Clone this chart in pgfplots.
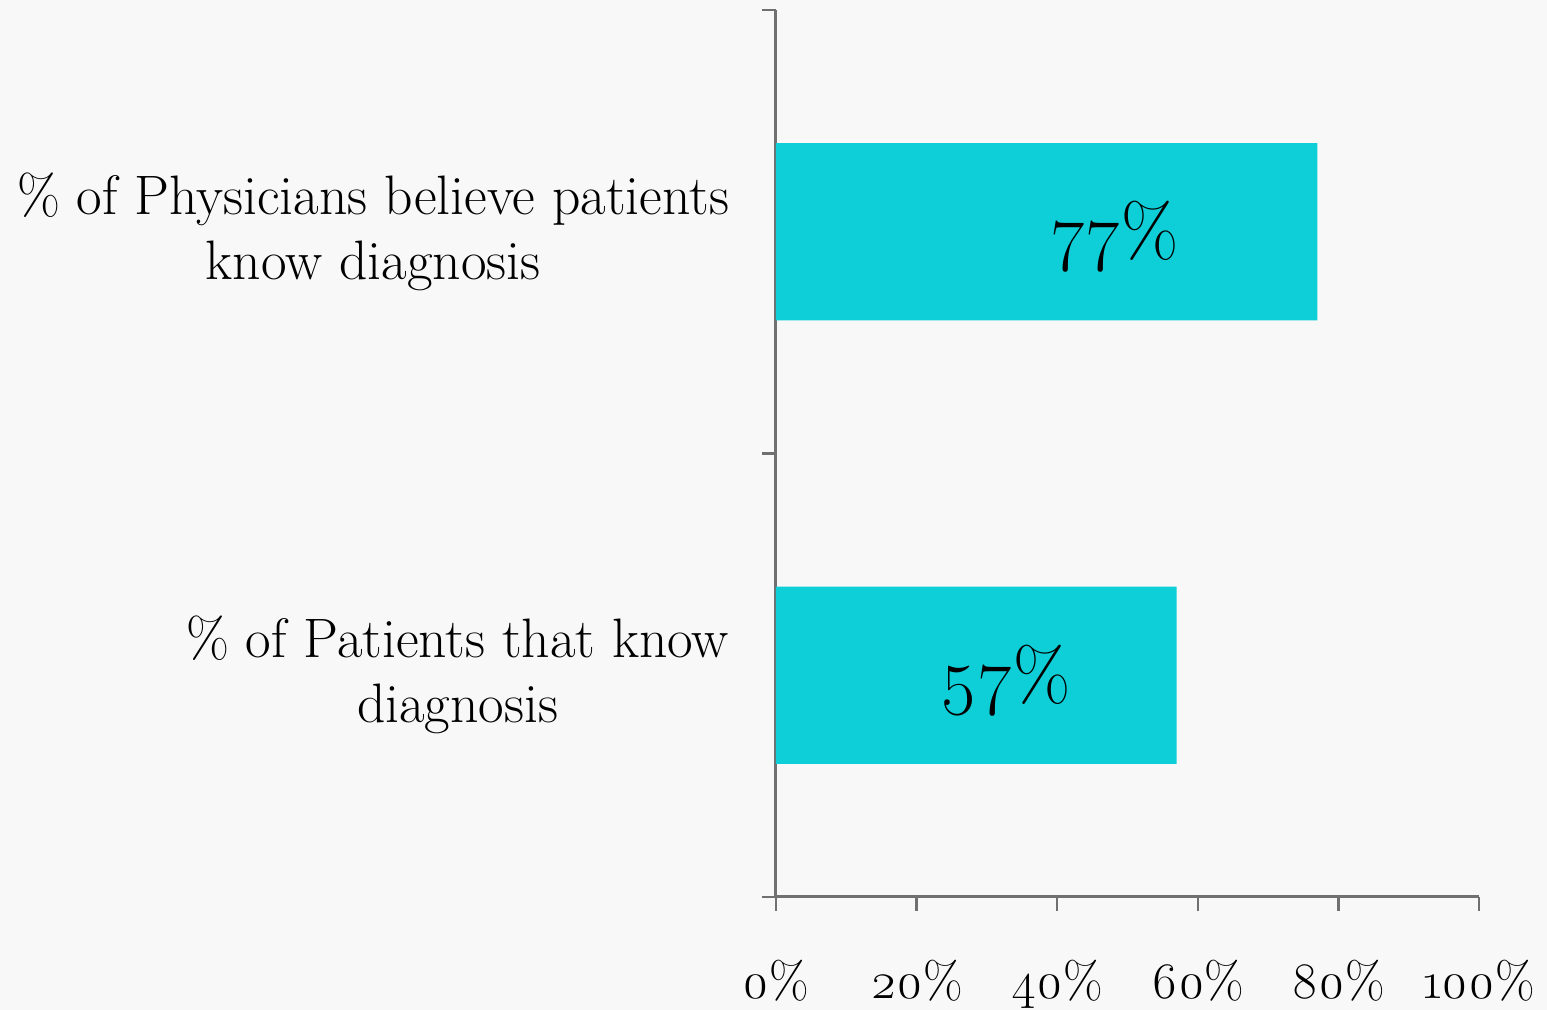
\documentclass[border=0pt]{standalone}
\usepackage{fontspec}
\setmainfont{Latin Modern Roman}[Numbers=OldStyle]
\usepackage{pgfplots}
\pgfplotsset{compat=1.18}
\definecolor{barcyan}{RGB}{14,207,216}
\definecolor{axisgray}{RGB}{112,112,112}
\definecolor{pagebg}{RGB}{248,248,248}
\begin{document}
\begin{tikzpicture}
\useasboundingbox[fill=pagebg] (-388pt,-56.5pt) rectangle (385.5pt,448.5pt);
\begin{axis}[
  at={(0,0)}, anchor=south west,
  scale only axis, width=351.5pt, height=443.5pt,
  xbar, bar width=0.4, bar shift=0pt,
  xmin=0, xmax=100, ymin=0, ymax=2,
  axis lines*=left,
  axis line style={axisgray, line width=1.5pt},
  tick style={axisgray, line width=1.2pt},
  tick align=outside,
  major tick length=7pt,
  xtick={0,20,...,100},
  xticklabels={0\%,20\%,40\%,60\%,80\%,100\%},
  xticklabel style={font=\fontsize{25.6}{30}\selectfont, anchor=base, yshift=-44pt},
  ytick={0,1,2}, yticklabels={},
  extra y ticks={0.5,1.5},
  extra y tick labels={{\% of Patients that know\\diagnosis},{\% of Physicians believe patients\\know diagnosis}},
  extra y tick style={major tick length=0pt,
    tick label style={align=center, anchor=east, xshift=-20pt,
      font=\fontsize{27.8}{32.5}\selectfont}},
]
\addplot[fill=barcyan, draw=none] coordinates {(57,0.5) (77,1.5)};
\node[font=\fontsize{37}{42}\selectfont, anchor=base] at (axis cs:48.2,1.444) {77\%};
\node[font=\fontsize{37}{42}\selectfont, anchor=base] at (axis cs:32.6,0.444) {57\%};
\end{axis}
\end{tikzpicture}
\end{document}
